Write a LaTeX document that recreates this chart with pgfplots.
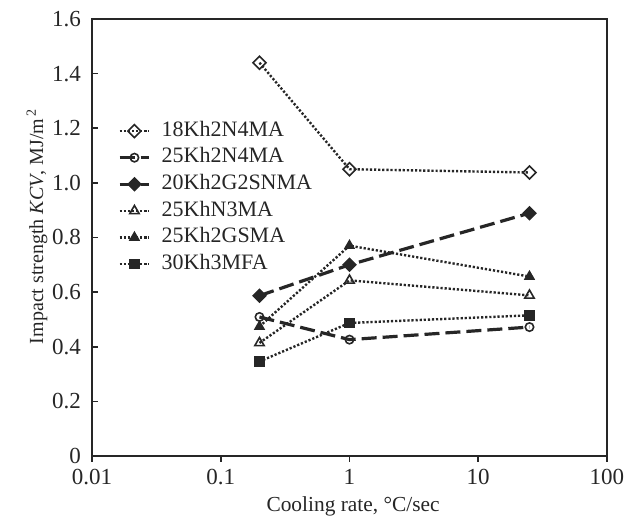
\documentclass[border=0pt]{standalone}
\usepackage{fontspec}
\setmainfont{Liberation Serif}
\usepackage{pgfplots}
\pgfplotsset{compat=1.18}
\begin{document}
\begin{tikzpicture}
\useasboundingbox (-46pt,-33.5pt) rectangle (268pt,228pt);
\begin{axis}[
  scale only axis, width=257.5pt, height=218.5pt,
  xmode=log, xmin=0.01, xmax=100, ymin=0, ymax=1.6,
  xtick={0.01,0.1,1,10,100}, xticklabels={0.01,0.1,1,10,100},
  ytick={0,0.2,0.4,0.6,0.8,1.0,1.2,1.4,1.6},
  yticklabels={0,0.2,0.4,0.6,0.8,1.0,1.2,1.4,1.6},
  xminorticks=false, yminorticks=false,
  xtick pos=left, ytick pos=left,
  xtick align=outside, ytick align=inside,
  major tick length=3pt,
  axis line style={line width=0.8pt, black!85},
  tick style={line width=0.8pt, black!85},
  tick label style={font=\fontsize{11.5}{13}\selectfont, text=black!85},
  yticklabel style={xshift=-2pt},
  xlabel={Cooling rate, °C/sec},
  ylabel={Impact strength \textit{KCV}, MJ/m\textsuperscript{\,2}},
  xlabel style={font=\fontsize{10.7}{12}\selectfont, text=black!85, at={(axis description cs:0.507,-0.128)}, anchor=base},
  ylabel style={font=\fontsize{10}{12}\selectfont, text=black!85, at={(axis description cs:-0.095,0.526)}, anchor=base},
  legend image code/.code={\draw[mark repeat=2,mark phase=2,#1] plot coordinates {(0pt,0pt) (7.35pt,0pt) (14.7pt,0pt)};},
  legend style={at={(axis description cs:0.05,0.7666)}, anchor=north west,
    draw=none, fill=none, inner sep=0pt, row sep=3.6pt,
    font=\fontsize{11}{13}\selectfont,
    nodes={inner sep=0pt, text height=7.5pt, text depth=2.2pt, text=black!85},
    /tikz/every odd column/.append style={column sep=5.5pt}},
  legend cell align=left,
  dotl/.style={black!85, line width=1.2pt, dash pattern=on 1.1pt off 0.95pt},
  dashl/.style={black!85, line width=1.6pt, dash pattern=on 7.5pt off 3pt},
]
\addplot[dotl, mark=square, mark size=2.3pt, mark options={solid, rotate=45, fill=white, line width=0.8pt}]
  coordinates {(0.2,1.44) (1,1.05) (25,1.038)};
\addlegendentry{18Kh2N4MA}
\addplot[dashl, mark=o, mark size=2.1pt, mark options={solid, fill=white, line width=0.8pt}]
  coordinates {(0.2,0.509) (1,0.426) (25,0.472)};
\addlegendentry{25Kh2N4MA}
\addplot[dashl, mark=square*, mark size=2.3pt, mark options={solid, rotate=45, fill=black!85, line width=0.6pt}]
  coordinates {(0.2,0.587) (1,0.70) (25,0.889)};
\addlegendentry{20Kh2G2SNMA}
\addplot[dotl, mark=triangle, mark size=2.7pt, mark options={solid, fill=white, line width=0.8pt}]
  coordinates {(0.2,0.414) (1,0.643) (25,0.588)};
\addlegendentry{25KhN3MA}
\addplot[dotl, mark=triangle*, mark size=2.7pt, mark options={solid, fill=black!85, line width=0.6pt}]
  coordinates {(0.2,0.474) (1,0.77) (25,0.657)};
\addlegendentry{25Kh2GSMA}
\addplot[dotl, mark=square*, mark size=2.3pt, mark options={solid, fill=black!85, line width=0.6pt}]
  coordinates {(0.2,0.346) (1,0.487) (25,0.515)};
\addlegendentry{30Kh3MFA}
\end{axis}
\end{tikzpicture}
\end{document}
